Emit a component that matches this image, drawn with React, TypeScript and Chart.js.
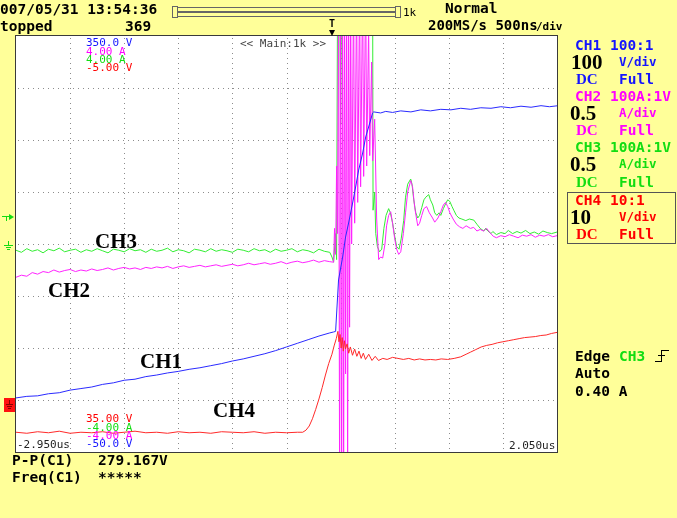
import React, { useEffect, useRef } from "react";
import { Chart, registerables } from "chart.js";

Chart.register(...registerables);

// ---- time base (microseconds) ----
const gridTimes = [-2.45, -1.95, -1.45, -0.95, -0.45, 0.05, 0.55, 1.05, 1.55];
const gridVolts = [0, 50, 100, 150, 200, 250, 300];

const preTime = [-2.95, -2.85, -2.75, -2.65, -2.55, -2.45, -2.35, -2.25, -2.15, -2.05, -1.95, -1.85, -1.75, -1.65, -1.55, -1.45, -1.35, -1.25, -1.15, -1.05, -0.95, -0.85, -0.75, -0.65, -0.55, -0.45, -0.35, -0.25, -0.15, -0.05];
const preTimeFine = [-2.95, -2.9, -2.85, -2.8, -2.75, -2.7, -2.65, -2.6, -2.55, -2.5, -2.45, -2.4, -2.35, -2.3, -2.25, -2.2, -2.15, -2.1, -2.05, -2.0, -1.95, -1.9, -1.85, -1.8, -1.75, -1.7, -1.65, -1.6, -1.55, -1.5, -1.45, -1.4, -1.35, -1.3, -1.25, -1.2, -1.15, -1.1, -1.05, -1.0, -0.95, -0.9, -0.85, -0.8, -0.75, -0.7, -0.65, -0.6, -0.55, -0.5, -0.45, -0.4, -0.35, -0.3, -0.25, -0.2, -0.15, -0.1, -0.05];

// ---- CH1 (V) ----
const ch1PreVolts = [2, 3.5, 4, 6, 7, 9.5, 11, 12.5, 15, 16.5, 19, 20, 22.5, 24, 26, 27.5, 29.5, 31, 33, 35, 37.5, 39.5, 42, 44.5, 47.5, 51, 54.5, 58, 61.5, 64.5];
const ch1EventTime = [-0.015, 0.004, 0.022, 0.031, 0.069, 0.096, 0.124, 0.161, 0.189, 0.217, 0.254, 0.282, 0.309, 0.346, 0.356, 0.42, 0.467, 0.53, 0.606, 0.7, 0.791, 0.88, 0.976, 1.07, 1.161, 1.25, 1.346, 1.44, 1.531, 1.62, 1.717, 1.81, 1.902, 1.98, 2.06];
const ch1EventVolts = [65.4, 66, 99, 115.4, 137.5, 156.7, 170.2, 189.4, 204.8, 221.1, 237.5, 252.9, 262.5, 276, 277, 276, 277.5, 276.5, 278, 277, 279, 278, 279.5, 279, 280.5, 279.5, 281, 280.5, 282, 281, 282.5, 281.5, 283, 282, 283];

// ---- CH2 (A) ----
const ch2PreAmps = [-0.64, -0.6, -0.62, -0.55, -0.58, -0.53, -0.55, -0.5, -0.54, -0.51, -0.49, -0.53, -0.5, -0.52, -0.48, -0.51, -0.49, -0.46, -0.5, -0.47, -0.45, -0.48, -0.46, -0.49, -0.45, -0.47, -0.44, -0.46, -0.43, -0.47, -0.44, -0.42, -0.45, -0.43, -0.41, -0.44, -0.42, -0.4, -0.43, -0.41, -0.39, -0.42, -0.4, -0.37, -0.4, -0.38, -0.36, -0.39, -0.37, -0.34, -0.38, -0.35, -0.33, -0.36, -0.34, -0.31, -0.35, -0.32, -0.34];
const ch2EventTime = [-0.015, -0.006, 0.004, 0.013, 0.022, 0.031, 0.041, 0.05, 0.06, 0.069, 0.078, 0.087, 0.096, 0.106, 0.115, 0.124, 0.133, 0.143, 0.152, 0.17, 0.18, 0.198, 0.208, 0.226, 0.235, 0.254, 0.263, 0.282, 0.291, 0.309, 0.319, 0.337, 0.346, 0.365, 0.383, 0.402, 0.42, 0.439, 0.46, 0.475, 0.494, 0.513, 0.53, 0.55, 0.568, 0.587, 0.606, 0.63, 0.65, 0.67, 0.698, 0.715, 0.735, 0.763, 0.78, 0.8, 0.82, 0.845, 0.87, 0.9, 0.92, 0.95, 0.976, 1.0, 1.02, 1.04, 1.06, 1.09, 1.12, 1.15, 1.18, 1.21, 1.25, 1.28, 1.31, 1.34, 1.37, 1.4, 1.43, 1.46, 1.49, 1.53, 1.57, 1.61, 1.65, 1.69, 1.73, 1.77, 1.81, 1.85, 1.89, 1.93, 1.97, 2.01, 2.05];
const ch2EventAmps = [-0.35, 0.3, -0.2, 1.5, 0.2, 5, -5, 5, -5, 5, -5, 5, -2.5, 5, -5, 5, -1.6, 5, 0.0, 5, 0.4, 5, 0.8, 5, 1.1, 5, 1.3, 5, 1.5, 4.2, 1.7, 3.5, 1.6, 2.4, 0.5, -0.3, -0.25, -0.27, 0.0, 0.35, 0.55, 0.62, 0.4, 0.1, -0.1, -0.2, -0.15, 0.2, 0.6, 1.0, 1.22, 1.1, 0.7, 0.35, 0.4, 0.55, 0.68, 0.72, 0.6, 0.5, 0.42, 0.5, 0.62, 0.75, 0.8, 0.72, 0.6, 0.48, 0.38, 0.33, 0.3, 0.35, 0.3, 0.32, 0.25, 0.28, 0.25, 0.3, 0.22, 0.15, 0.12, 0.16, 0.14, 0.18, 0.15, 0.12, 0.17, 0.15, 0.18, 0.13, 0.17, 0.15, 0.18, 0.14, 0.16];

// ---- CH3 (A) ----
const ch3PreAmps = [-0.12, -0.16, -0.09, -0.14, -0.11, -0.17, -0.1, -0.13, -0.08, -0.15, -0.12, -0.1, -0.16, -0.11, -0.14, -0.09, -0.13, -0.17, -0.1, -0.12, -0.15, -0.09, -0.13, -0.11, -0.16, -0.1, -0.14, -0.12, -0.08, -0.15, -0.11, -0.13, -0.17, -0.1, -0.12, -0.15, -0.09, -0.14, -0.11, -0.13, -0.16, -0.1, -0.12, -0.15, -0.09, -0.13, -0.11, -0.16, -0.1, -0.14, -0.12, -0.09, -0.15, -0.11, -0.13, -0.17, -0.1, -0.14, -0.16];
const ch3EventTime = [-0.03, -0.015, 0.004, 0.013, 0.022, 0.041, 0.05, 0.06, 0.1, 0.15, 0.2, 0.25, 0.3, 0.346, 0.35, 0.365, 0.375, 0.39, 0.41, 0.43, 0.45, 0.47, 0.494, 0.51, 0.531, 0.55, 0.568, 0.59, 0.61, 0.633, 0.65, 0.67, 0.698, 0.71, 0.726, 0.745, 0.763, 0.78, 0.8, 0.82, 0.837, 0.865, 0.88, 0.902, 0.92, 0.939, 0.96, 0.976, 1.0, 1.022, 1.04, 1.059, 1.08, 1.096, 1.12, 1.143, 1.17, 1.207, 1.24, 1.281, 1.31, 1.34, 1.374, 1.39, 1.411, 1.44, 1.457, 1.49, 1.531, 1.57, 1.6, 1.64, 1.68, 1.717, 1.76, 1.8, 1.84, 1.88, 1.92, 1.96, 2.0, 2.05];
const ch3EventAmps = [-0.25, -0.35, 0.2, -0.3, 5, 5, 2.3, 5, 5, 5, 5, 5, 5, 5, 0.65, 1.0, 0.2, -0.05, -0.15, -0.1, 0.3, 0.55, 0.68, 0.6, 0.4, 0.15, -0.05, -0.1, 0.1, 0.45, 0.9, 1.15, 1.25, 1.15, 0.85, 0.6, 0.5, 0.55, 0.7, 0.85, 0.9, 0.95, 0.85, 0.75, 0.6, 0.55, 0.6, 0.55, 0.68, 0.78, 0.85, 0.82, 0.72, 0.65, 0.55, 0.5, 0.48, 0.45, 0.48, 0.46, 0.38, 0.3, 0.25, 0.3, 0.25, 0.2, 0.24, 0.18, 0.22, 0.2, 0.26, 0.2, 0.24, 0.21, 0.26, 0.2, 0.23, 0.19, 0.25, 0.22, 0.2, 0.23];

// ---- CH4 (V) ----
const ch4PreVolts = [-3.1, -3.2, -3.05, -3.15, -3.0, -3.2, -3.1, -3.15, -3.05, -3.2, -3.1, -3.0, -3.15, -3.1, -3.2, -3.05, -3.15, -3.1, -3.2, -3.05, -3.1, -3.15, -3.05, -3.2, -3.1, -3.15, -3.1];
const ch4EventTime = [-0.3, -0.27, -0.24, -0.21, -0.18, -0.15, -0.12, -0.09, -0.06, -0.03, -0.01, 0.01, 0.025, 0.035, 0.045, 0.055, 0.065, 0.075, 0.085, 0.095, 0.11, 0.125, 0.14, 0.16, 0.18, 0.2, 0.22, 0.24, 0.26, 0.28, 0.31, 0.34, 0.37, 0.4, 0.44, 0.48, 0.53, 0.58, 0.63, 0.68, 0.73, 0.78, 0.83, 0.88, 0.93, 0.98, 1.04, 1.1, 1.16, 1.21, 1.25, 1.3, 1.35, 1.4, 1.45, 1.5, 1.55, 1.6, 1.65, 1.7, 1.75, 1.8, 1.85, 1.9, 1.95, 2.0, 2.05];
const ch4EventVolts = [-3.1, -2.9, -2.5, -1.8, -0.9, 0.1, 1.2, 2.4, 3.5, 4.4, 5.2, 5.9, 6.6, 5.6, 6.3, 5.0, 6.0, 4.7, 5.7, 4.9, 5.4, 4.5, 5.1, 4.3, 4.9, 4.2, 4.7, 4.0, 4.5, 3.9, 4.4, 3.8, 4.2, 3.8, 4.0, 3.9, 4.1, 4.0, 3.9, 4.0, 3.85, 3.95, 3.85, 3.9, 3.85, 3.95, 3.9, 4.0, 4.15, 4.4, 4.6, 4.85, 5.1, 5.25, 5.35, 5.5, 5.6, 5.7, 5.8, 5.9, 6.0, 6.05, 6.1, 6.2, 6.25, 6.4, 6.5];

const pairs = (ts: number[], vs: number[]) => ts.map((t, i) => ({ x: t, y: vs[i] }));

const YELLOW = "#FFFF99";
const BLUE = "#1414ff";
const MAGENTA = "#ff00ff";
const GREEN = "#12dd12";
const RED = "#ff0000";
const MONO = '"DejaVu Sans Mono", monospace';
const SERIF = '"Liberation Serif", "DejaVu Serif", serif';

const scopeFrame = {
  id: "scopeFrame",
  beforeDatasetsDraw(chart: any) {
    const { ctx, chartArea: a, scales } = chart;
    ctx.save();
    ctx.fillStyle = "#ffffff";
    ctx.fillRect(a.left, a.top, a.right - a.left, a.bottom - a.top);
    ctx.strokeStyle = "#8c8c8c";
    ctx.lineWidth = 1;
    ctx.setLineDash([1, 4]);
    gridTimes.forEach((t) => {
      const x = Math.round(scales.x.getPixelForValue(t)) + 0.5;
      ctx.beginPath();
      ctx.moveTo(x, a.top + 2);
      ctx.lineTo(x, a.bottom);
      ctx.stroke();
    });
    gridVolts.forEach((v) => {
      const y = Math.round(scales.y1.getPixelForValue(v)) + 0.5;
      ctx.beginPath();
      ctx.moveTo(a.left + 2, y);
      ctx.lineTo(a.right, y);
      ctx.stroke();
    });
    ctx.setLineDash([]);
    ctx.strokeStyle = "#3a3a3a";
    ctx.strokeRect(a.left - 0.5, a.top - 0.5, a.right - a.left + 1, a.bottom - a.top + 1);
    ctx.restore();
  },
};

type T = { t: string; x: number; y: number; c?: string; s?: number; f?: string; w?: string };

const texts: T[] = [
  { t: "007/05/31 13:54:36", x: 0, y: 9, s: 14.5, w: "bold" },
  { t: "topped", x: 0, y: 26, s: 14.5, w: "bold" },
  { t: "369", x: 125, y: 26, s: 14.5, w: "bold" },
  { t: "Normal", x: 445, y: 8, s: 14.5, w: "bold" },
  { t: "200MS/s 500ns", x: 428, y: 25, s: 14, w: "bold" },
  { t: "/div", x: 536, y: 26, s: 11, w: "bold" },
  { t: "1k", x: 403, y: 12, s: 11 },
  { t: "T", x: 329, y: 24, s: 10, w: "bold" },
  // right panel
  { t: "CH1 100:1", x: 575, y: 45, c: BLUE, s: 14.5, w: "bold" },
  { t: "100", x: 571, y: 62, s: 21, f: SERIF, w: "bold" },
  { t: "V/div", x: 619, y: 62, c: BLUE, s: 12.5, w: "bold" },
  { t: "DC", x: 576, y: 79, c: BLUE, s: 15, f: SERIF, w: "bold" },
  { t: "Full", x: 619, y: 79, c: BLUE, s: 14.5, w: "bold" },
  { t: "CH2 100A:1V", x: 575, y: 96, c: MAGENTA, s: 14.5, w: "bold" },
  { t: "0.5", x: 570, y: 113, s: 21, f: SERIF, w: "bold" },
  { t: "A/div", x: 619, y: 113, c: MAGENTA, s: 12.5, w: "bold" },
  { t: "DC", x: 576, y: 130, c: MAGENTA, s: 15, f: SERIF, w: "bold" },
  { t: "Full", x: 619, y: 130, c: MAGENTA, s: 14.5, w: "bold" },
  { t: "CH3 100A:1V", x: 575, y: 147, c: GREEN, s: 14.5, w: "bold" },
  { t: "0.5", x: 570, y: 164, s: 21, f: SERIF, w: "bold" },
  { t: "A/div", x: 619, y: 164, c: GREEN, s: 12.5, w: "bold" },
  { t: "DC", x: 576, y: 182, c: GREEN, s: 15, f: SERIF, w: "bold" },
  { t: "Full", x: 619, y: 182, c: GREEN, s: 14.5, w: "bold" },
  { t: "CH4 10:1", x: 575, y: 200, c: RED, s: 14.5, w: "bold" },
  { t: "10", x: 570, y: 217, s: 21, f: SERIF, w: "bold" },
  { t: "V/div", x: 619, y: 217, c: RED, s: 12.5, w: "bold" },
  { t: "DC", x: 576, y: 234, c: RED, s: 15, f: SERIF, w: "bold" },
  { t: "Full", x: 619, y: 234, c: RED, s: 14.5, w: "bold" },
  // trigger info
  { t: "Edge", x: 575, y: 356, s: 14.5, w: "bold" },
  { t: "CH3", x: 619, y: 356, c: GREEN, s: 14.5, w: "bold" },
  { t: "Auto", x: 575, y: 373, s: 14.5, w: "bold" },
  { t: "0.40 A", x: 575, y: 391, s: 14.5, w: "bold" },
  // measurements
  { t: "P-P(C1)", x: 12, y: 460, s: 14.5, w: "bold" },
  { t: "279.167V", x: 98, y: 460, s: 14.5, w: "bold" },
  { t: "Freq(C1)", x: 12, y: 477, s: 14.5, w: "bold" },
  { t: "*****", x: 98, y: 477, s: 14.5, w: "bold" },
  // in-plot scale labels
  { t: "350.0 V", x: 86, y: 42, c: BLUE, s: 11 },
  { t: "4.00 A", x: 86, y: 51, c: MAGENTA, s: 11 },
  { t: "4.00 A", x: 86, y: 59, c: GREEN, s: 11 },
  { t: "-5.00 V", x: 86, y: 67, c: RED, s: 11 },
  { t: "<< Main:1k >>", x: 240, y: 43, c: "#444", s: 11 },
  { t: "35.00 V", x: 86, y: 418, c: RED, s: 11 },
  { t: "-4.00 A", x: 86, y: 427, c: GREEN, s: 11 },
  { t: "-4.00 A", x: 86, y: 435, c: MAGENTA, s: 11 },
  { t: "-50.0 V", x: 86, y: 443, c: BLUE, s: 11 },
  { t: "-2.950us", x: 17, y: 444, c: "#222", s: 11 },
  { t: "2.050us", x: 509, y: 445, c: "#222", s: 11 },
  // channel annotations
  { t: "CH3", x: 95, y: 241, s: 21, f: SERIF, w: "bold" },
  { t: "CH2", x: 48, y: 290, s: 21, f: SERIF, w: "bold" },
  { t: "CH1", x: 140, y: 361, s: 21, f: SERIF, w: "bold" },
  { t: "CH4", x: 213, y: 410, s: 21, f: SERIF, w: "bold" },
];

const box = (x: number, y: number, w: number, h: number, style: any = {}) => (
  <div style={{ position: "absolute", left: x, top: y, width: w, height: h, boxSizing: "border-box", ...style }} />
);

export default function App() {
  const ref = useRef<HTMLCanvasElement>(null);
  useEffect(() => {
    document.body.style.margin = "0";
    const chart = new Chart(ref.current as HTMLCanvasElement, {
      type: "line",
      data: {
        datasets: [
          { data: pairs([...preTime, ...ch1EventTime], [...ch1PreVolts, ...ch1EventVolts]), borderColor: "#2a2aff", yAxisID: "y1", order: 0 },
          { data: pairs([...preTime.slice(0, 27), ...ch4EventTime], [...ch4PreVolts, ...ch4EventVolts]), borderColor: "#ff2a2a", yAxisID: "y4", order: 1 },
          { data: pairs([...preTimeFine, ...ch2EventTime], [...ch2PreAmps, ...ch2EventAmps]), borderColor: "#ff22ff", yAxisID: "y2", order: 2 },
          { data: pairs([...preTimeFine, ...ch3EventTime], [...ch3PreAmps, ...ch3EventAmps]), borderColor: "#33ee33", yAxisID: "y3", order: 3 },
        ],
      },
      options: {
        responsive: false,
        animation: false,
        devicePixelRatio: 1,
        events: [],
        layout: { padding: { left: 16, top: 36, right: 120, bottom: 66 } },
        plugins: { legend: { display: false }, tooltip: { enabled: false } },
        elements: { point: { radius: 0 }, line: { borderWidth: 1, tension: 0 } },
        scales: {
          x: { type: "linear", min: -2.95, max: 2.05, display: false },
          y1: { type: "linear", min: -50, max: 350, display: false },
          y2: { type: "linear", min: -4, max: 4, display: false },
          y3: { type: "linear", min: -4, max: 4, display: false },
          y4: { type: "linear", min: -5, max: 35, display: false },
        },
      } as any,
      plugins: [scopeFrame],
    });
    return () => chart.destroy();
  }, []);

  return (
    <div style={{ position: "relative", width: 677, height: 518, background: YELLOW, overflow: "hidden" }}>
      <canvas ref={ref} width={677} height={518} style={{ position: "absolute", left: 0, top: 0 }} />
      {/* time-window bar */}
      {box(172, 6, 6, 12, { border: "1px solid #666" })}
      {box(177, 7, 219, 5, { border: "1px solid #666" })}
      {box(177, 12, 219, 5, { border: "1px solid #666" })}
      {box(395, 6, 6, 12, { border: "1px solid #666" })}
      {/* trigger position marker */}
      <div style={{ position: "absolute", left: 329, top: 30, width: 0, height: 0, borderLeft: "3px solid transparent", borderRight: "3px solid transparent", borderTop: "6px solid #000" }} />
      {/* CH4 box */}
      {box(567, 192, 109, 52, { border: "1px solid #555" })}
      {/* rising edge symbol */}
      {box(655, 361, 7, 1, { background: "#000" })}
      {box(661, 350, 1, 12, { background: "#000" })}
      {box(661, 350, 8, 1, { background: "#000" })}
      {box(658, 355, 7, 1, { background: "#000" })}
      {/* left markers */}
      {box(2, 216, 9, 1, { background: GREEN })}
      {box(6, 216, 1, 5, { background: GREEN })}
      <div style={{ position: "absolute", left: 9, top: 214, width: 0, height: 0, borderTop: "3px solid transparent", borderBottom: "3px solid transparent", borderLeft: "5px solid " + GREEN }} />
      {box(8, 241, 1, 4, { background: GREEN })}
      {box(4, 245, 9, 1, { background: GREEN })}
      {box(6, 247, 5, 1, { background: GREEN })}
      {box(7, 249, 3, 1, { background: GREEN })}
      {box(4, 398, 11, 14, { background: "#ff1010" })}
      {box(9, 400, 1, 4, { background: "#800" })}
      {box(6, 404, 7, 1, { background: "#800" })}
      {box(7, 406, 5, 1, { background: "#800" })}
      {box(8, 408, 3, 1, { background: "#800" })}
      {texts.map((d, i) => (
        <div
          key={i}
          style={{
            position: "absolute",
            left: d.x,
            top: d.y - (d.s || 14) / 2,
            fontFamily: d.f || MONO,
            fontSize: d.s || 14,
            fontWeight: (d.w as any) || "normal",
            color: d.c || "#000",
            lineHeight: 1,
            whiteSpace: "pre",
          }}
        >
          {d.t}
        </div>
      ))}
    </div>
  );
}
